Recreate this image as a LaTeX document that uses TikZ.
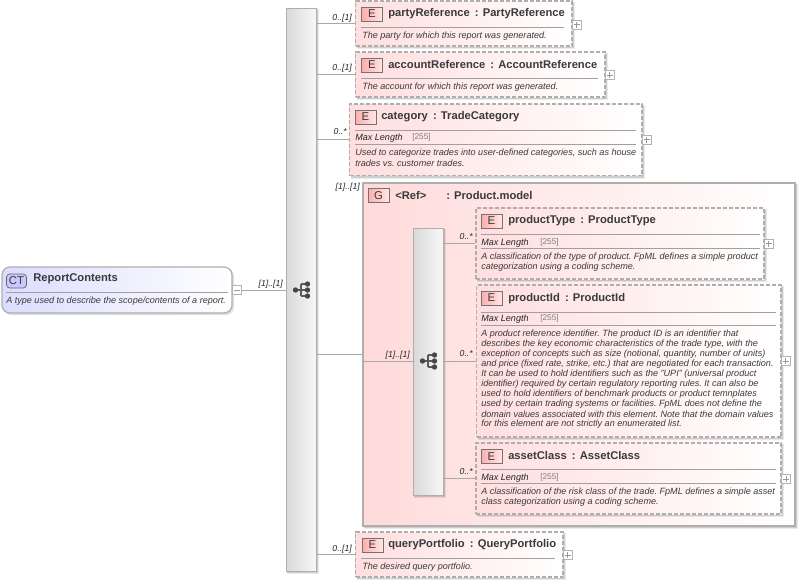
\documentclass[tikz,border=0pt]{standalone}
\usepackage{fontspec}
\setmainfont{Liberation Sans}
\usetikzlibrary{calc}
\definecolor{ink}{HTML}{3A3A3A}
\definecolor{rulecol}{HTML}{A0A0A0}
\definecolor{edgecol}{HTML}{AEAEAE}
\definecolor{linecol}{HTML}{A8A8A8}
\definecolor{pinkA}{HTML}{FFDEDE}
\definecolor{pinkB}{HTML}{FFDADA}
\definecolor{badgeA}{HTML}{FFACAC}
\definecolor{badgeB}{HTML}{FFE6E6}
\definecolor{ctA}{HTML}{DCDCFF}
\definecolor{ctBadge}{HTML}{C8C8FF}
\tikzset{
  x=0.75pt,y=-0.75pt,
  elementbox/.style={draw=edgecol,dash pattern=on 3pt off 1.5pt,line width=0.85pt,rectangle,inner sep=0,left color=pinkA,right color=white},
  groupbox/.style={draw=edgecol,line width=0.9pt,rectangle,inner sep=0,left color=pinkB,right color=white},
  typebox/.style={draw=edgecol,line width=0.9pt,rectangle,rounded corners=6pt,inner sep=0,left color=ctA,right color=white},
  badge/.style={draw=black!55,line width=0.5pt,rectangle,inner sep=0,minimum width=15.75pt,minimum height=10.5pt,left color=badgeA,right color=badgeB,font=\fontsize{8.5}{8.5}\selectfont,text=ink},
  ctbadge/.style={draw=black!60,line width=0.55pt,rectangle,rounded corners=2.5pt,inner sep=0,minimum width=15pt,minimum height=10.5pt,fill=ctBadge,font=\fontsize{8.5}{8.5}\selectfont,text=ink},
  title/.style={anchor=west,inner sep=0,yshift=-0.9pt,font=\fontsize{8.4}{9}\bfseries\selectfont,text=ink},
  desc/.style={anchor=west,inner sep=0,yshift=-0.8pt,font=\fontsize{6.8}{7.5}\itshape\frenchspacing\selectfont,text=ink},
  maxlen/.style={anchor=west,inner sep=0,yshift=-0.6pt,font=\fontsize{6.8}{7.5}\itshape\selectfont,text=black!85},
  maxval/.style={anchor=west,inner sep=0,yshift=-0.6pt,font=\fontsize{6.2}{7}\selectfont,text=black!50},
  occurs/.style={anchor=east,inner sep=0,font=\fontsize{6.5}{7.5}\itshape\selectfont,text=black!85},
  divider/.style={draw=rulecol,line width=0.75pt},
  conn/.style={draw=linecol,line width=0.75pt},
  togglebox/.style={draw=black!30,line width=0.4pt,rectangle,inner sep=0,minimum size=6.75pt,fill=white},
  togglemark/.style={draw=black!40,line width=0.4pt},
  seqbar/.style={draw=edgecol,line width=0.75pt,rectangle,inner sep=0,left color=black!15,right color=black!3},
  iconline/.style={draw=black!65,line width=0.8pt},
  icondot/.style={fill=black!72,draw=none},
  shadowA/.style={fill=black,opacity=0.12,draw=none},
  shadowB/.style={fill=black,opacity=0.08,draw=none},
}
% x1, y1, x2, y2
\newcommand{\shadowrect}[4]{%
  \fill[shadowA] (#1+1,#2+1) rectangle (#3+2,#4+2);
  \fill[shadowB] (#1+1,#2+1) rectangle (#3+3,#4+3);}
% name, x1, y1, x2, y2, style
\newcommand{\boxnode}[6]{%
  \shadowrect{#2}{#3}{#4}{#5}
  \node[#6,minimum width={(#4-#2)*0.75pt},minimum height={(#5-#3)*0.75pt}] (#1) at ({(#2+#4)/2},{(#3+#5)/2}) {};}
% name, x(centre), y(centre)
\newcommand{\plusbox}[3]{%
  \node[togglebox] (#1) at (#2,#3) {};
  \draw[togglemark] ($(#1.center)+(-3,0)$) -- ($(#1.center)+(3,0)$);
  \draw[togglemark] ($(#1.center)+(0,-3)$) -- ($(#1.center)+(0,3)$);}
% icon centred on #1,#2
\newcommand{\seqicon}[2]{%
  \begin{scope}[shift={(#1,#2)}]
    \draw[iconline] (-5.5,0) -- (0,0);
    \draw[iconline] (0,-6) -- (0,6);
    \draw[iconline] (0,-6) -- (6.5,-6) (0,0) -- (6.5,0) (0,6) -- (6.5,6);
    \fill[icondot] (-5.5,0) circle (2.7);
    \fill[icondot] (6.5,-6) circle (2.7);
    \fill[icondot] (6.5,0) circle (2.7);
    \fill[icondot] (6.5,6) circle (2.7);
  \end{scope}}
\begin{document}
\begin{tikzpicture}
\useasboundingbox (0,0) rectangle (801,583);
\fill[white] (0,0) rectangle (801,583);

% sequence bars
\boxnode{seqOuter}{286}{8}{316}{571}{seqbar}
\seqicon{301}{290}

% complex type
\fill[shadowA,rounded corners=6pt] (3,268) rectangle (234,315);
\node[typebox,minimum width=172.5pt,minimum height=34.5pt] (report) at (117,290) {};
\node[ctbadge] (reportBadge) at (16.5,281) {CT};
\node[title] (reportTitle) at (33,278) {ReportContents};
\draw[divider] (6,292) -- (228,292);
\node[desc] (reportDesc) at (6,300) {A type used to describe the scope/contents of a report.};
\node[togglebox] (reportToggle) at (236.5,290) {};
\draw[togglemark] ($(reportToggle.center)+(-3,0)$) -- ($(reportToggle.center)+(3,0)$);
\draw[conn] (reportToggle.east) -- (seqOuter.west |- reportToggle.east);
\node[occurs] (reportOcc) at (283,284) {[1]..[1]};

% partyReference
\boxnode{party}{355.5}{1}{572}{46}{elementbox}
\node[badge] (partyBadge) at (372,14) {E};
\node[title] (partyTitle) at (388,12) {partyReference\hspace{1.5pt} : PartyReference};
\draw[divider] (361,27) -- (564,27);
\node[desc] (partyDesc) at (362,35) {The party for which this report was generated.};
\plusbox{partyToggle}{576.5}{24.5}
\draw[conn] (seqOuter.east |- party.west) -- (party.west);
\node[occurs] (partyOcc) at (352,18) {0..[1]};

% accountReference
\boxnode{account}{355.5}{52}{605}{97}{elementbox}
\node[badge] (accountBadge) at (372,65) {E};
\node[title] (accountTitle) at (388,63) {accountReference\hspace{1.5pt} : AccountReference};
\draw[divider] (361,78) -- (598,78);
\node[desc] (accountDesc) at (362,86) {The account for which this report was generated.};
\plusbox{accountToggle}{609.5}{75}
\draw[conn] (seqOuter.east |- account.west) -- (account.west);
\node[occurs] (accountOcc) at (352,68) {0..[1]};

% category
\boxnode{category}{349.5}{104}{642}{175.5}{elementbox}
\node[badge] (categoryBadge) at (365.5,117) {E};
\node[title] (categoryTitle) at (381,115) {category\hspace{1.5pt} : TradeCategory};
\draw[divider] (355,130) -- (636,130);
\node[maxlen] (categoryMax) at (355,137) {Max Length};
\node[maxval] (categoryVal) at (412,137) {[255]};
\draw[divider] (355,144) -- (636,144);
\node[desc] (categoryDescA) at (355,152) {Used to categorize trades into user-defined categories, such as house};
\node[desc] (categoryDescB) at (355,162) {trades vs. customer trades.};
\plusbox{categoryToggle}{646.5}{139.5}
\draw[conn] (seqOuter.east |- category.west) -- (category.west);
\node[occurs] (categoryOcc) at (347,132) {0..*};

% group
\boxnode{group}{363}{183}{795}{526}{groupbox}
\node[badge] (groupBadge) at (378.5,195.5) {G};
\node[title] (groupRef) at (395,194) {<Ref>};
\node[title] (groupTitle) at (446,194) {: Product.model};
\node[occurs] (groupOcc) at (360,187) {[1]..[1]};

% inner sequence
\boxnode{seqInner}{413}{228}{443}{495}{seqbar}
\seqicon{428}{361}
\draw[conn] (seqOuter.east |- group.west) -- (group.west);
\draw[conn] (group.west |- seqInner.west) -- (seqInner.west);
\node[occurs] (innerOcc) at (410,355) {[1]..[1]};

% productType
\boxnode{ptype}{476}{208}{764}{279}{elementbox}
\node[badge] (ptypeBadge) at (491.5,221) {E};
\node[title] (ptypeTitle) at (508,219) {productType\hspace{1.5pt} : ProductType};
\draw[divider] (481,234) -- (760,234);
\node[maxlen] (ptypeMax) at (481,242) {Max Length};
\node[maxval] (ptypeVal) at (540,241.5) {[255]};
\draw[divider] (481,248) -- (760,248);
\node[desc] (ptypeDescA) at (481,256) {A classification of the type of product. FpML defines a simple product};
\node[desc] (ptypeDescB) at (481,266) {categorization using a coding scheme.};
\plusbox{ptypeToggle}{768.5}{243.5}
\draw[conn] (seqInner.east |- ptype.west) -- (ptype.west);
\node[occurs] (ptypeOcc) at (473,237) {0..*};

% productId
\boxnode{pid}{476.5}{285}{781}{437}{elementbox}
\node[badge] (pidBadge) at (491.5,298) {E};
\node[title] (pidTitle) at (508,297) {productId\hspace{1.5pt} : ProductId};
\draw[divider] (481,312) -- (776,312);
\node[maxlen] (pidMax) at (481,318.5) {Max Length};
\node[maxval] (pidVal) at (540,318) {[255]};
\draw[divider] (481,325) -- (776,325);
\node[desc] (pidDescA) at (481,333) {A product reference identifier. The product ID is an identifier that};
\node[desc] (pidDescB) at (481,343) {describes the key economic characteristics of the trade type, with the};
\node[desc] (pidDescC) at (481,353) {exception of concepts such as size (notional, quantity, number of units)};
\node[desc] (pidDescD) at (481,363) {and price (fixed rate, strike, etc.) that are negotiated for each transaction.};
\node[desc] (pidDescE) at (481,373) {It can be used to hold identifiers such as the "UPI" (universal product};
\node[desc] (pidDescF) at (481,383) {identifier) required by certain regulatory reporting rules. It can also be};
\node[desc] (pidDescG) at (481,393) {used to hold identifiers of benchmark products or product temnplates};
\node[desc] (pidDescH) at (481,403) {used by certain trading systems or facilities. FpML does not define the};
\node[desc] (pidDescI) at (481,413) {domain values associated with this element. Note that the domain values};
\node[desc] (pidDescJ) at (481,423) {for this element are not strictly an enumerated list.};
\plusbox{pidToggle}{785.5}{361}
\draw[conn] (seqInner.east |- pid.west) -- (pid.west);
\node[occurs] (pidOcc) at (473,354) {0..*};

% assetClass
\boxnode{asset}{476}{443}{781}{514}{elementbox}
\node[badge] (assetBadge) at (491.5,456.5) {E};
\node[title] (assetTitle) at (508,454) {assetClass\hspace{1.5pt} : AssetClass};
\draw[divider] (481,469) -- (776,469);
\node[maxlen] (assetMax) at (481,477) {Max Length};
\node[maxval] (assetVal) at (540,476.5) {[255]};
\draw[divider] (481,483) -- (776,483);
\node[desc] (assetDescA) at (481,491) {A classification of the risk class of the trade. FpML defines a simple asset};
\node[desc] (assetDescB) at (481,501) {class categorization using a coding scheme.};
\plusbox{assetToggle}{786}{479}
\draw[conn] (seqInner.east |- asset.west) -- (asset.west);
\node[occurs] (assetOcc) at (473,472) {0..*};

% queryPortfolio
\boxnode{query}{355.5}{532}{563}{577}{elementbox}
\node[badge] (queryBadge) at (372.5,545) {E};
\node[title] (queryTitle) at (388,543) {queryPortfolio\hspace{1.5pt} : QueryPortfolio};
\draw[divider] (361,558) -- (555,558);
\node[desc] (queryDesc) at (362,566) {The desired query portfolio.};
\plusbox{queryToggle}{567.5}{555}
\draw[conn] (seqOuter.east |- query.west) -- (query.west);
\node[occurs] (queryOcc) at (352,549) {0..[1]};
\end{tikzpicture}
\end{document}
